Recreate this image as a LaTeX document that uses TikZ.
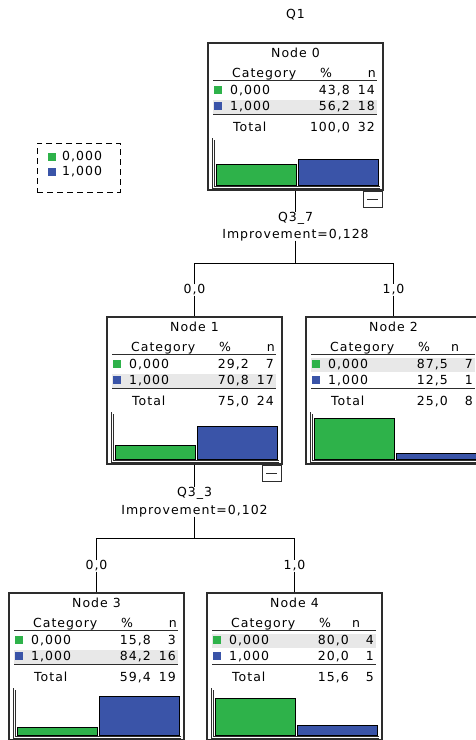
\documentclass[tikz,border=0pt]{standalone}
\usepackage{fontspec}
\setmainfont{DejaVu Sans}[LetterSpace=8]
\usepackage{xcolor}
\usepackage{tikz}

\definecolor{catgreen}{RGB}{46,178,74}
\definecolor{catblue}{RGB}{58,84,168}
\definecolor{rowgrey}{RGB}{232,232,232}
\definecolor{framegrey}{RGB}{45,45,45}

\def\docommafy#1.#2\relax{#1,#2}
\newcommand{\commafy}[1]{\docommafy#1\relax}

\tikzset{
  catbox/.style={draw=framegrey, line width=1.1pt, minimum width=175pt, minimum height=147pt, inner sep=0pt},
  celltext/.style={inner sep=0pt, text height=9pt, text depth=2pt, font=\fontsize{12.5}{14}\selectfont},
  catsquare/.style={minimum size=8pt, inner sep=0pt},
  bar/.style={draw=black, line width=0.8pt},
  axisline/.style={draw=framegrey, line width=0.6pt},
  link/.style={draw=black, line width=1pt},
  minusbox/.style={draw=framegrey, line width=0.8pt, minimum width=19pt, minimum height=16pt, inner sep=0pt,
    path picture={\draw[line width=0.9pt] ([xshift=4pt]path picture bounding box.west) -- ([xshift=-4pt]path picture bounding box.east);}},
  legendbox/.style={draw=black, line width=0.9pt, dash pattern=on 6pt off 4pt, minimum width=83pt, minimum height=49pt, inner sep=0pt}
}

% #1 name, #2 top left corner, #3 node number, #4 #5 pct and n of 0,000, #6 #7 pct and n of 1,000, #8 #9 total
\newcommand{\catnode}[9]{%
  \begin{scope}[shift={#2}]
    \pgfmathsetmacro{\hirow}{#4>#6 ? 48 : 64}
    \fill[rowgrey] (5,\hirow-7) rectangle (169,\hirow+7);
    \node[catbox] (#1) at (87.5,73.5) {};
    \node[celltext] (#1-title) at (87.5,11) {Node #3};
    \node[celltext, anchor=west] (#1-cat) at (24,31) {Category};
    \node[celltext] (#1-pcthead) at (118,31) {\%};
    \ifnum#9<10
      \node[celltext] (#1-nhead) at (149,31) {n};
    \else
      \node[celltext, anchor=east] (#1-nhead) at (168,31) {n};
    \fi
    \draw[line width=0.8pt, framegrey] (5,37) -- (169,37);
    % 0,000
    \node[catsquare, fill=catgreen] (#1-sq0) at (10,47) {};
    \node[celltext, anchor=west] (#1-lab0) at (22,48) {0,000};
    \node[celltext, anchor=east] (#1-pct0) at (142,48) {\commafy{#4}};
    \node[celltext, anchor=east] (#1-n0) at (167,48) {#5};
    % 1,000
    \node[catsquare, fill=catblue] (#1-sq1) at (10,63) {};
    \node[celltext, anchor=west] (#1-lab1) at (22,64) {1,000};
    \node[celltext, anchor=east] (#1-pct1) at (142,64) {\commafy{#6}};
    \node[celltext, anchor=east] (#1-n1) at (167,64) {#7};
    \draw[line width=1.4pt, framegrey] (5,71.5) -- (169,71.5);
    % total
    \node[celltext, anchor=west] (#1-total) at (25,85) {Total};
    \node[celltext, anchor=east] (#1-pctt) at (142,85) {\commafy{#8}};
    \node[celltext, anchor=east] (#1-nt) at (167,85) {#9};
    % bars
    \draw[axisline] (4,95) -- (4,145) -- (172,145);
    \draw[axisline] (6.5,97) -- (6.5,143) -- (172,143);
    \draw[bar, fill=catgreen] (8.5,142) rectangle (88,{142-0.46*#4});
    \draw[bar, fill=catblue] (90,142) rectangle (170,{142-0.46*#6});
  \end{scope}}

\begin{document}
\begin{tikzpicture}[x=1pt, y=-1pt]
\useasboundingbox (0,0) rectangle (476,740);
\clip (0,0) rectangle (476,740);

\node[legendbox] (legend) at (78.5,167.5) {};
\node[catsquare, fill=catgreen] (leg0) at (52,156.5) {};
\node[celltext, anchor=west] (leg0-text) at (62,157) {0,000};
\node[catsquare, fill=catblue] (leg1) at (52,171.5) {};
\node[celltext, anchor=west] (leg1-text) at (62,172) {1,000};

\node[celltext] (q1) at (295.5,15) {Q1};

\catnode{n0}{(208,43)}{0}{43.8}{14}{56.2}{18}{100.0}{32}
\catnode{n1}{(107,317)}{1}{29.2}{7}{70.8}{17}{75.0}{24}
\catnode{n2}{(306,317)}{2}{87.5}{7}{12.5}{1}{25.0}{8}
\catnode{n3}{(9,593)}{3}{15.8}{3}{84.2}{16}{59.4}{19}
\catnode{n4}{(207,593)}{4}{80.0}{4}{20.0}{1}{15.6}{5}

\node[minusbox, anchor=north east] (n0-minus) at ([xshift=-1pt]n0.south east) {};
\node[minusbox, anchor=north east] (n1-minus) at ([xshift=-1pt]n1.south east) {};

% first split
\node[celltext] (split0) at (295.5,218) {Q3\_7};
\node[celltext] (imp0) at (295.5,235) {Improvement=0,128};
\coordinate (fork0) at (295.5,263.5);
\node[celltext] (br00) at (194.5,290) {0,0};
\node[celltext] (br01) at (393.5,290) {1,0};
\draw[link] (n0.south) -- (split0.north);
\draw[link] (imp0.south) -- (fork0);
\draw[link] (br00.north) |- (fork0) -| (br01.north);
\draw[link] (br00.south) -- (n1.north);
\draw[link] (br01.south) -- (n2.north);

% second split
\node[celltext] (split1) at (194.5,493) {Q3\_3};
\node[celltext] (imp1) at (194.5,511) {Improvement=0,102};
\coordinate (fork1) at (194.5,538.5);
\node[celltext] (br10) at (96.5,566) {0,0};
\node[celltext] (br11) at (294.5,566) {1,0};
\draw[link] (n1.south) -- (split1.north);
\draw[link] (imp1.south) -- (fork1);
\draw[link] (br10.north) |- (fork1) -| (br11.north);
\draw[link] (br10.south) -- (n3.north);
\draw[link] (br11.south) -- (n4.north);
\end{tikzpicture}
\end{document}
